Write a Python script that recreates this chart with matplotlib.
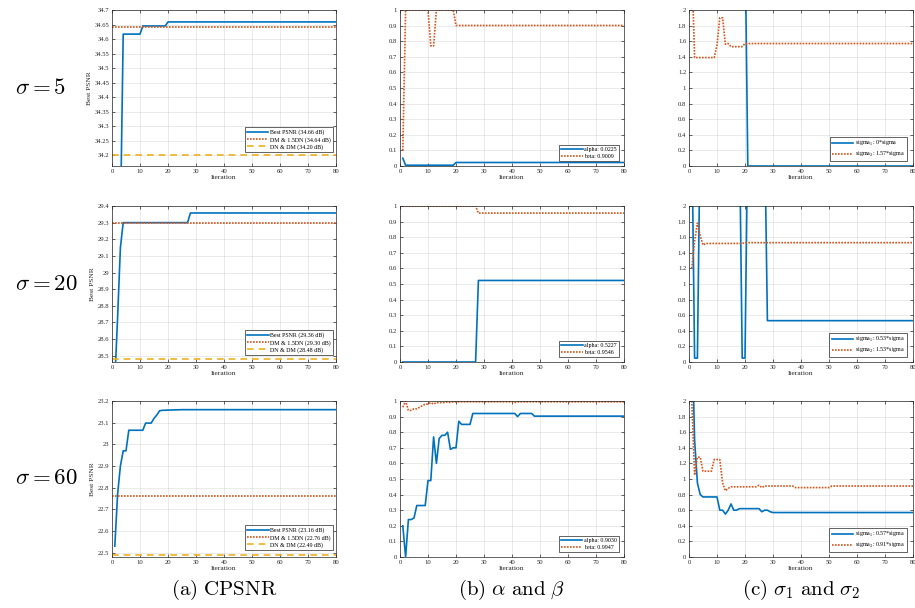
import matplotlib
matplotlib.use('Agg')
import matplotlib.pyplot as plt
from matplotlib.ticker import MultipleLocator, FormatStrFormatter

plt.rcParams['font.family'] = ['Liberation Serif', 'DejaVu Serif']
plt.rcParams['mathtext.fontset'] = 'cm'

blue = '#0072BD'
red = '#D95319'
yellow = '#EDB120'
dark = '#262626'
dotted = (0, (1, 0.8))
dashed = (0, (4, 3))

# ---- data (iteration, value), only points where the value changes ----
# (a) CPSNR
it_a5 = [1, 2, 3, 4, 10, 11, 19, 20, 80]
psnr_a5 = [33.5, 33.8, 33.97, 34.617, 34.617, 34.645, 34.645, 34.659, 34.659]
it_a20 = [1, 2, 3, 4, 27, 28, 80]
psnr_a20 = [28.35, 28.73, 29.15, 29.30, 29.30, 29.358, 29.358]
it_a60 = [1, 2, 3, 4, 5, 6, 11, 12, 14, 15, 16, 17, 18, 20, 25, 80]
psnr_a60 = [22.53, 22.77, 22.90, 22.97, 22.97, 23.065, 23.065, 23.098, 23.098,
            23.12, 23.135, 23.155, 23.157, 23.158, 23.16, 23.16]
dm15 = [34.642, 29.30, 22.76]
dndm = [34.20, 28.48, 22.49]
best_lab = ['34.66', '29.36', '23.16']
dm15_lab = ['34.64', '29.30', '22.76']
dndm_lab = ['34.20', '28.48', '22.49']
ylims_a = [(34.163, 34.7), (28.462, 29.4), (22.48, 23.2)]
ystep_a = [0.05, 0.1, 0.1]

# (b) alpha and beta
it_b5a = [1, 2, 19, 20, 80]
alpha5 = [0.05, 0.005, 0.005, 0.0225, 0.0225]
it_b5b = [1, 2, 10, 11, 12, 13, 19, 20, 80]
beta5 = [0.1, 1.0, 1.0, 0.77, 0.77, 1.0, 1.0, 0.9009, 0.9009]
it_b20 = [1, 27, 28, 80]
alpha20 = [0.0, 0.0, 0.5227, 0.5227]
beta20 = [1.0, 1.0, 0.9546, 0.9546]
it_b60a = [1, 2, 3, 4, 5, 6, 9, 10, 11, 12, 13, 14, 15, 16, 17, 18, 19, 20,
           21, 22, 25, 26, 41, 42, 43, 47, 48, 80]
alpha60 = [0.20, 0.0, 0.24, 0.24, 0.25, 0.33, 0.33, 0.49, 0.49, 0.77, 0.60,
           0.76, 0.78, 0.78, 0.80, 0.69, 0.70, 0.70, 0.87, 0.85, 0.85, 0.92,
           0.92, 0.90, 0.92, 0.92, 0.903, 0.903]
it_b60b = [1, 2, 3, 4, 5, 6, 7, 8, 9, 10, 11, 12, 13, 15, 16, 17, 18, 19, 20,
           40, 41, 42, 43, 80]
beta60 = [0.96, 1.0, 0.94, 0.94, 0.95, 0.95, 0.96, 0.97, 0.98, 0.98, 0.99,
          0.98, 0.99, 0.99, 0.99, 0.995, 0.99, 0.995, 0.995, 0.995, 0.99,
          0.995, 0.995, 0.9947]
alpha_lab = ['0.0225', '0.5227', '0.9030']
beta_lab = ['0.9009', '0.9546', '0.9947']

# (c) sigma1 and sigma2
it_c5a = [1, 20, 21, 80]
s1_5 = [3.0, 3.0, 0.0, 0.0]
it_c5b = [1, 2, 3, 9, 10, 11, 12, 13, 14, 15, 19, 20, 80]
s2_5 = [2.6, 1.39, 1.39, 1.39, 1.55, 1.9, 1.9, 1.56, 1.57, 1.53, 1.53, 1.57, 1.57]
it_c20a = [1, 2, 3, 4, 18, 19, 20, 21, 27, 28, 80]
s1_20 = [3.0, 0.05, 0.05, 3.0, 3.0, 0.05, 0.05, 3.0, 3.0, 0.53, 0.53]
it_c20b = [1, 2, 3, 4, 5, 6, 19, 20, 80]
s2_20 = [1.2, 1.55, 1.78, 1.62, 1.5, 1.52, 1.52, 1.53, 1.53]
it_c60a = [1, 2, 3, 4, 5, 10, 11, 12, 13, 14, 15, 16, 17, 18, 25, 26, 27, 28,
           29, 30, 80]
s1_60 = [3.0, 1.5, 0.95, 0.8, 0.77, 0.77, 0.6, 0.6, 0.55, 0.6, 0.68, 0.6, 0.6,
         0.62, 0.62, 0.58, 0.6, 0.6, 0.58, 0.57, 0.57]
it_c60b = [1, 2, 3, 4, 5, 8, 9, 11, 12, 13, 14, 15, 24, 25, 26, 27, 37, 38,
           50, 51, 80]
s2_60 = [2.0, 1.05, 1.28, 1.28, 1.1, 1.1, 1.25, 1.25, 0.95, 0.85, 0.88, 0.9,
         0.9, 0.92, 0.89, 0.91, 0.91, 0.89, 0.89, 0.91, 0.91]
s1_lab = ['0', '0.53', '0.57']
s2_lab = ['1.57', '1.53', '0.91']

row_names = [r'$\sigma = 5$', r'$\sigma = 20$', r'$\sigma = 60$']
captions = [r'$\mathrm{(a)\ CPSNR}$', r'$\mathrm{(b)}\ \alpha\ \mathrm{and}\ \beta$',
            r'$\mathrm{(c)}\ \sigma_1\ \mathrm{and}\ \sigma_2$']

fig = plt.figure(figsize=(9.15, 6.08), dpi=100)

col_x = [112 / 915, 400 / 915, 689 / 915]
row_y = [1 - 166 / 608, 1 - 362 / 608, 1 - 557 / 608]
w = 224 / 915
h = 156 / 608


def style(ax, ylim, ystep):
    ax.set_xlim(0, 80)
    ax.set_ylim(*ylim)
    ax.xaxis.set_major_locator(MultipleLocator(10))
    ax.yaxis.set_major_locator(MultipleLocator(ystep))
    ax.yaxis.set_major_formatter(FormatStrFormatter('%g'))
    ax.tick_params(direction='in', length=2, width=0.5, labelsize=4.8,
                   colors=dark, top=True, right=True, pad=2)
    ax.grid(True, color=dark, alpha=0.13, linewidth=0.5)
    for s in ax.spines.values():
        s.set_color(dark)
        s.set_linewidth(0.5)
    ax.set_xlabel('Iteration', fontsize=5.4, color=dark, labelpad=1)


def legend(ax, ax_x, ax_y):
    leg = ax.legend(loc='lower right', bbox_to_anchor=(ax_x, ax_y),
                    borderaxespad=0, fontsize=4.3, handlelength=3.6,
                    fancybox=False, framealpha=1, edgecolor=dark,
                    borderpad=0.35, labelspacing=0.25, handletextpad=0.3)
    leg.get_frame().set_linewidth(0.5)


a_data = [(it_a5, psnr_a5), (it_a20, psnr_a20), (it_a60, psnr_a60)]
b_data = [(it_b5a, alpha5, it_b5b, beta5), (it_b20, alpha20, it_b20, beta20),
          (it_b60a, alpha60, it_b60b, beta60)]
c_data = [(it_c5a, s1_5, it_c5b, s2_5), (it_c20a, s1_20, it_c20b, s2_20),
          (it_c60a, s1_60, it_c60b, s2_60)]
leg_a_y = [0.09, 0.045, 0.045]

for r in range(3):
    # column (a)
    ax = fig.add_axes([col_x[0], row_y[r], w, h])
    it, ps = a_data[r]
    ax.plot(it, ps, color=blue, lw=1.2, label='Best PSNR (%s dB)' % best_lab[r])
    ax.axhline(dm15[r], color=red, lw=1.2, ls=dotted,
               label='DM & 1.5DN (%s dB)' % dm15_lab[r])
    ax.axhline(dndm[r], color=yellow, lw=1.2, ls=dashed,
               label='DN & DM (%s dB)' % dndm_lab[r])
    style(ax, ylims_a[r], ystep_a[r])
    ax.set_ylabel('Best PSNR', fontsize=5.4, color=dark, labelpad=2)
    legend(ax, 0.987, leg_a_y[r])

    # column (b)
    ax = fig.add_axes([col_x[1], row_y[r], w, h])
    ia, al, ib, be = b_data[r]
    ax.plot(ia, al, color=blue, lw=1.2, label='alpha: ' + alpha_lab[r])
    ax.plot(ib, be, color=red, lw=1.2, ls=dotted, label='beta: ' + beta_lab[r])
    style(ax, (0, 1), 0.1)
    legend(ax, 0.978, 0.032)

    # column (c)
    ax = fig.add_axes([col_x[2], row_y[r], w, h])
    ia, s1, ib, s2 = c_data[r]
    ax.plot(ia, s1, color=blue, lw=1.2, label=r'sigma$_1$: %s*sigma' % s1_lab[r])
    ax.plot(ib, s2, color=red, lw=1.2, ls=dotted,
            label=r'sigma$_2$: %s*sigma' % s2_lab[r])
    style(ax, (0, 2), 0.2)
    legend(ax, 0.973, 0.032)

    fig.text(15 / 915, row_y[r] + h / 2, row_names[r], fontsize=16.5,
             ha='left', va='center')

for c in range(3):
    fig.text(col_x[c] + w / 2, 1 - 590 / 608, captions[c], fontsize=15,
             ha='center', va='center')

plt.savefig('out.png', dpi=100)
